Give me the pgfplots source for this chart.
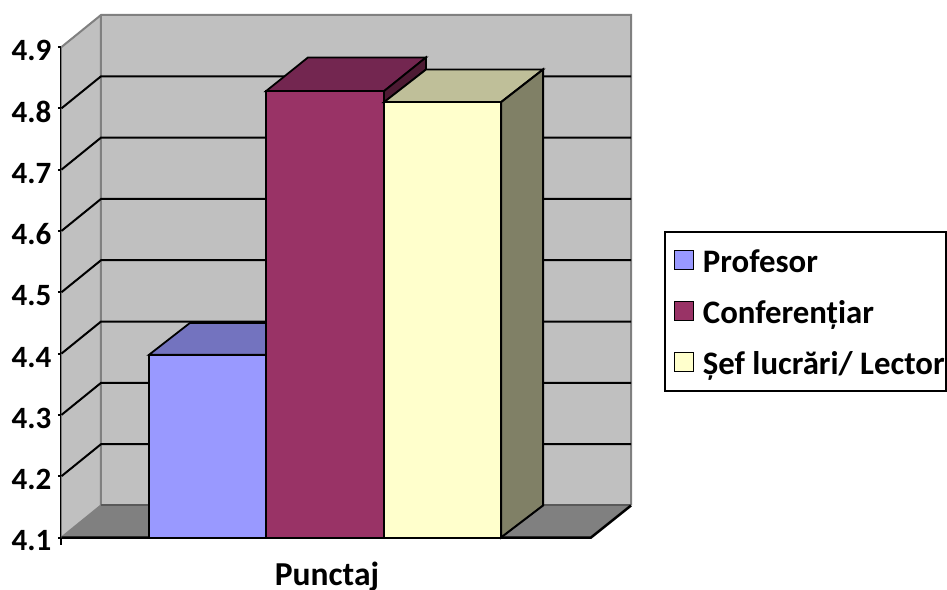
\documentclass[border=0pt]{standalone}
\usepackage{pgfplots}
\pgfplotsset{compat=1.18}
\usepackage{fontspec}
\setmainfont{Carlito}
\definecolor{wall}{HTML}{C0C0C0}
\definecolor{floorc}{HTML}{808080}
\definecolor{pf}{HTML}{9999FF}
\definecolor{pt}{HTML}{7373BF}
\definecolor{cf}{HTML}{993366}
\definecolor{ct}{HTML}{732650}
\definecolor{cs}{HTML}{4D1A33}
\definecolor{sf}{HTML}{FFFFCC}
\definecolor{st}{HTML}{BFBF99}
\definecolor{ss}{HTML}{808066}
\begin{document}
\begin{tikzpicture}
\path[use as bounding box] (-61.5pt,-51.5pt) rectangle (885.5pt,537.5pt);
\begin{axis}[
  scale only axis, width=885.5pt, height=490.5pt,
  xmin=61.5, xmax=947, ymin=4.1, ymax=4.9,
  clip=false,
  axis x line=none, axis y line=left,
  axis line style={-, line width=2pt, black},
  ytick={4.1,4.2,4.3,4.4,4.5,4.6,4.7,4.8,4.9},
  tick align=outside, major tick length=3.5pt,
  tick style={black, line width=2pt},
  /pgf/number format/assume math mode=true,
  /pgf/number format/fixed, /pgf/number format/fixed zerofill, /pgf/number format/precision=1,
  yticklabel style={font=\fontsize{31}{36}\selectfont\bfseries, inner sep=0pt, xshift=-6.5pt, yshift=-3.5pt},
  axis on top=false,
  legend style={at={(axis cs:664,4.6)}, anchor=north west, draw=black, line width=1.8pt,
    font=\fontsize{32.8}{36}\selectfont\bfseries, inner xsep=1pt, inner ysep=14pt,
    legend cell align=left, row sep=21.5pt,
    nodes={inner xsep=0pt, inner ysep=0pt, text height=27pt, text depth=2.5pt},
    /tikz/every even column/.append style={column sep=0pt}},
  legend image code/.code={\draw[#1, line width=1.6pt] (8.5pt,-9pt) rectangle (27.5pt,10pt); \path[draw=none, fill=none] (0pt,0pt) -- (37pt,0pt);},
]
% walls and floor
\addplot[forget plot, fill=wall, draw=none] coordinates {(61.5,4.9)(101,4.9522)(631,4.9522)(631,4.1522)(591,4.1)(61.5,4.1)} -- cycle;
\addplot[forget plot, fill=floorc, draw=none] coordinates {(61.5,4.1)(101,4.1522)(631,4.1522)(591,4.1)} -- cycle;
\addplot[forget plot, draw=floorc, line width=2pt] coordinates {(61.5,4.9)(101,4.9522)(631,4.9522)(631,4.1522)};
\addplot[forget plot, draw=floorc, line width=2pt] coordinates {(101,4.9522)(101,4.1522)(61.5,4.1)};
\addplot[forget plot, draw=black!65, line width=2pt] coordinates {(101,4.1522)(631,4.1522)};
\addplot[forget plot, draw=black, line width=2.5pt] coordinates {(61.5,4.1)(591,4.1)(631,4.1522)};
\addplot[forget plot, draw=black, line width=2pt] coordinates {(61.5,4.1)(61.5,4.088)};
% gridlines
\addplot[forget plot, black, line width=2pt] coordinates {(61.5,4.2)(101,4.2522)(631,4.2522)};
\addplot[forget plot, black, line width=2pt] coordinates {(61.5,4.3)(101,4.3522)(631,4.3522)};
\addplot[forget plot, black, line width=2pt] coordinates {(61.5,4.4)(101,4.4522)(631,4.4522)};
\addplot[forget plot, black, line width=2pt] coordinates {(61.5,4.5)(101,4.5522)(631,4.5522)};
\addplot[forget plot, black, line width=2pt] coordinates {(61.5,4.6)(101,4.6522)(631,4.6522)};
\addplot[forget plot, black, line width=2pt] coordinates {(61.5,4.7)(101,4.7522)(631,4.7522)};
\addplot[forget plot, black, line width=2pt] coordinates {(61.5,4.8)(101,4.8522)(631,4.8522)};
% Profesor
\addplot[forget plot, fill=pt, draw=black, line width=1.8pt] coordinates {(149,4.398)(190,4.450)(307,4.450)(266,4.398)} -- cycle;
\addplot[fill=pf, draw=black, line width=2pt] coordinates {(149,4.1)(149,4.398)(266,4.398)(266,4.1)} -- cycle;
\addlegendentry{Profesor}
% Conferentiar
\addplot[forget plot, fill=ct, draw=black, line width=1.8pt] coordinates {(266,4.828)(308,4.883)(426,4.883)(384,4.828)} -- cycle;
\addplot[forget plot, fill=cs, draw=black, line width=1.8pt] coordinates {(384,4.81)(384,4.828)(426,4.883)(426,4.8633)} -- cycle;
\addplot[fill=cf, draw=black, line width=2pt] coordinates {(266,4.1)(266,4.828)(384,4.828)(384,4.1)} -- cycle;
\addlegendentry{Conferențiar}
% Sef lucrari
\addplot[forget plot, fill=st, draw=black, line width=1.8pt] coordinates {(384,4.81)(426,4.8633)(543,4.8633)(501,4.81)} -- cycle;
\addplot[forget plot, fill=ss, draw=black, line width=2pt] coordinates {(501,4.1)(501,4.81)(543,4.8633)(543,4.1522)} -- cycle;
\addplot[fill=sf, draw=black, line width=2pt] coordinates {(384,4.1)(384,4.81)(501,4.81)(501,4.1)} -- cycle;
\addlegendentry{Șef lucrări/ Lector}
\node[font=\fontsize{33.5}{36}\selectfont\bfseries, anchor=base, inner sep=0pt] at (axis cs:327,4.0225) {Punctaj};
\end{axis}
\end{tikzpicture}
\end{document}
